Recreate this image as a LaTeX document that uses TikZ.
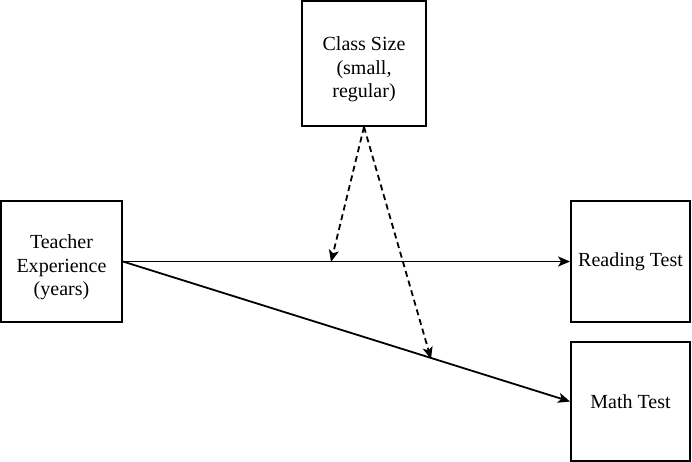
\documentclass[tikz,border=0pt]{standalone}
\usepackage{fontspec}
\setmainfont{Liberation Serif}
\usetikzlibrary{arrows.meta}
\begin{document}
\begin{tikzpicture}[x=1pt,y=-1pt,
  box/.style={draw,line width=1.8pt,minimum width=#1,inner sep=0pt,align=center,font=\fontsize{20}{23.5}\selectfont},
  conn/.style={line width=1.8pt,-{Stealth[length=12pt,width=10pt,inset=3pt]}},
  dconn/.style={conn,dash pattern=on 6pt off 4pt}]
\useasboundingbox (0,0) rectangle (692,462);
\node[box=124pt,minimum height=125pt] (cs) at (364,63.5) {\rule{0pt}{26pt}Class Size\\(small,\\regular)};
\node[box=121pt,minimum height=121pt] (te) at (61.5,261.5) {\rule{0pt}{26pt}Teacher\\Experience\\(years)};
\node[box=119pt,minimum height=121pt] (rt) at (630.5,261.5) {Reading Test};
\node[box=119pt,minimum height=119pt] (mt) at (630.5,401.5) {Math Test};
\coordinate (m1) at (331,262);
\coordinate (m2) at (431,359);
\draw[conn] (te.east) -- (rt.west);
\draw[conn] (te.east) -- (mt.west);
\draw[dconn] (cs.south) -- (m1);
\draw[dconn] (cs.south) -- (m2);
\end{tikzpicture}
\end{document}
